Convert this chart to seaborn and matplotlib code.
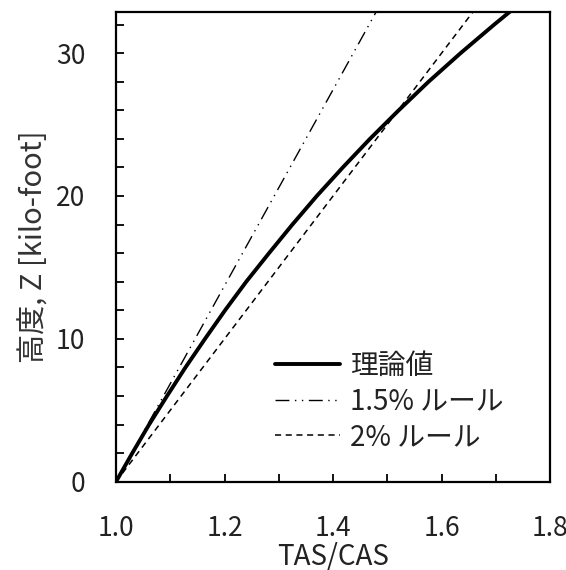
import matplotlib
matplotlib.use("Agg")
import matplotlib.pyplot as plt
from matplotlib.ticker import MultipleLocator
import seaborn as sns
import pandas as pd

# altitude [kft] and TAS/CAS values
theory_alt = [0, 2, 4, 6, 8, 10, 12, 14, 16, 18, 20, 22, 24, 26, 28, 30, 32, 33]
theory_ratio = [1.000, 1.030, 1.061, 1.094, 1.128, 1.164, 1.201, 1.240, 1.282,
                1.325, 1.370, 1.418, 1.468, 1.521, 1.576, 1.635, 1.697, 1.729]
rule15_alt = [0, 33]
rule15_ratio = [1.000, 1.481]
rule2_alt = [0, 33]
rule2_ratio = [1.000, 1.660]

labels = ["理論値", "1.5% ルール", "2% ルール"]
xticks = [1.0, 1.2, 1.4, 1.6, 1.8]
yticks = [0, 10, 20, 30]

sns.set_theme(style="ticks")
plt.rcParams["font.family"] = ["Noto Sans CJK JP", "DejaVu Sans"]

fig = plt.figure(figsize=(5.66, 5.70), dpi=100)
ax = fig.add_axes([0.205, 0.155, 0.767, 0.8245])

df_t = pd.DataFrame({"ratio": theory_ratio, "alt": theory_alt})
df_15 = pd.DataFrame({"ratio": rule15_ratio, "alt": rule15_alt})
df_2 = pd.DataFrame({"ratio": rule2_ratio, "alt": rule2_alt})

sns.lineplot(data=df_t, x="ratio", y="alt", sort=False, estimator=None, ax=ax,
             color="black", linewidth=2.8, label=labels[0])
sns.lineplot(data=df_15, x="ratio", y="alt", sort=False, estimator=None, ax=ax,
             color="black", linewidth=1.0, label=labels[1],
             linestyle=(0, (10, 4, 1, 4, 1, 4)))
sns.lineplot(data=df_2, x="ratio", y="alt", sort=False, estimator=None, ax=ax,
             color="black", linewidth=1.1, label=labels[2],
             linestyle=(0, (4, 3)))

ax.set_xlim(1.0, 1.8)
ax.set_ylim(0, 32.9)
ax.set_xticks(xticks)
ax.set_yticks(yticks)
ax.xaxis.set_minor_locator(MultipleLocator(0.1))
ax.yaxis.set_minor_locator(MultipleLocator(2))
ax.tick_params(axis="both", which="both", direction="in", length=6, width=1.3,
               top=False, right=False, color="black")
ax.tick_params(axis="x", which="major", labelsize=19, pad=24, labelcolor="#222222")
ax.tick_params(axis="y", which="major", labelsize=19, pad=22, labelcolor="#222222")
ax.set_xticklabels(["1.0", "1.2", "1.4", "1.6", "1.8"])

for s in ax.spines.values():
    s.set_visible(True)
    s.set_linewidth(1.6)
    s.set_color("black")

ax.set_xlabel("TAS/CAS", fontsize=20, color="#222222", labelpad=0)
ax.set_ylabel("高度, Z [kilo-foot]", fontsize=21, color="#333333", labelpad=5)

leg = ax.legend(loc="lower left", bbox_to_anchor=(0.366, 0.063), frameon=False,
                fontsize=20, handlelength=2.35, handletextpad=0.36,
                labelspacing=0.2, borderaxespad=0, borderpad=0)
for t in leg.get_texts():
    t.set_color("#222222")

fig.savefig("out.png", dpi=100)
